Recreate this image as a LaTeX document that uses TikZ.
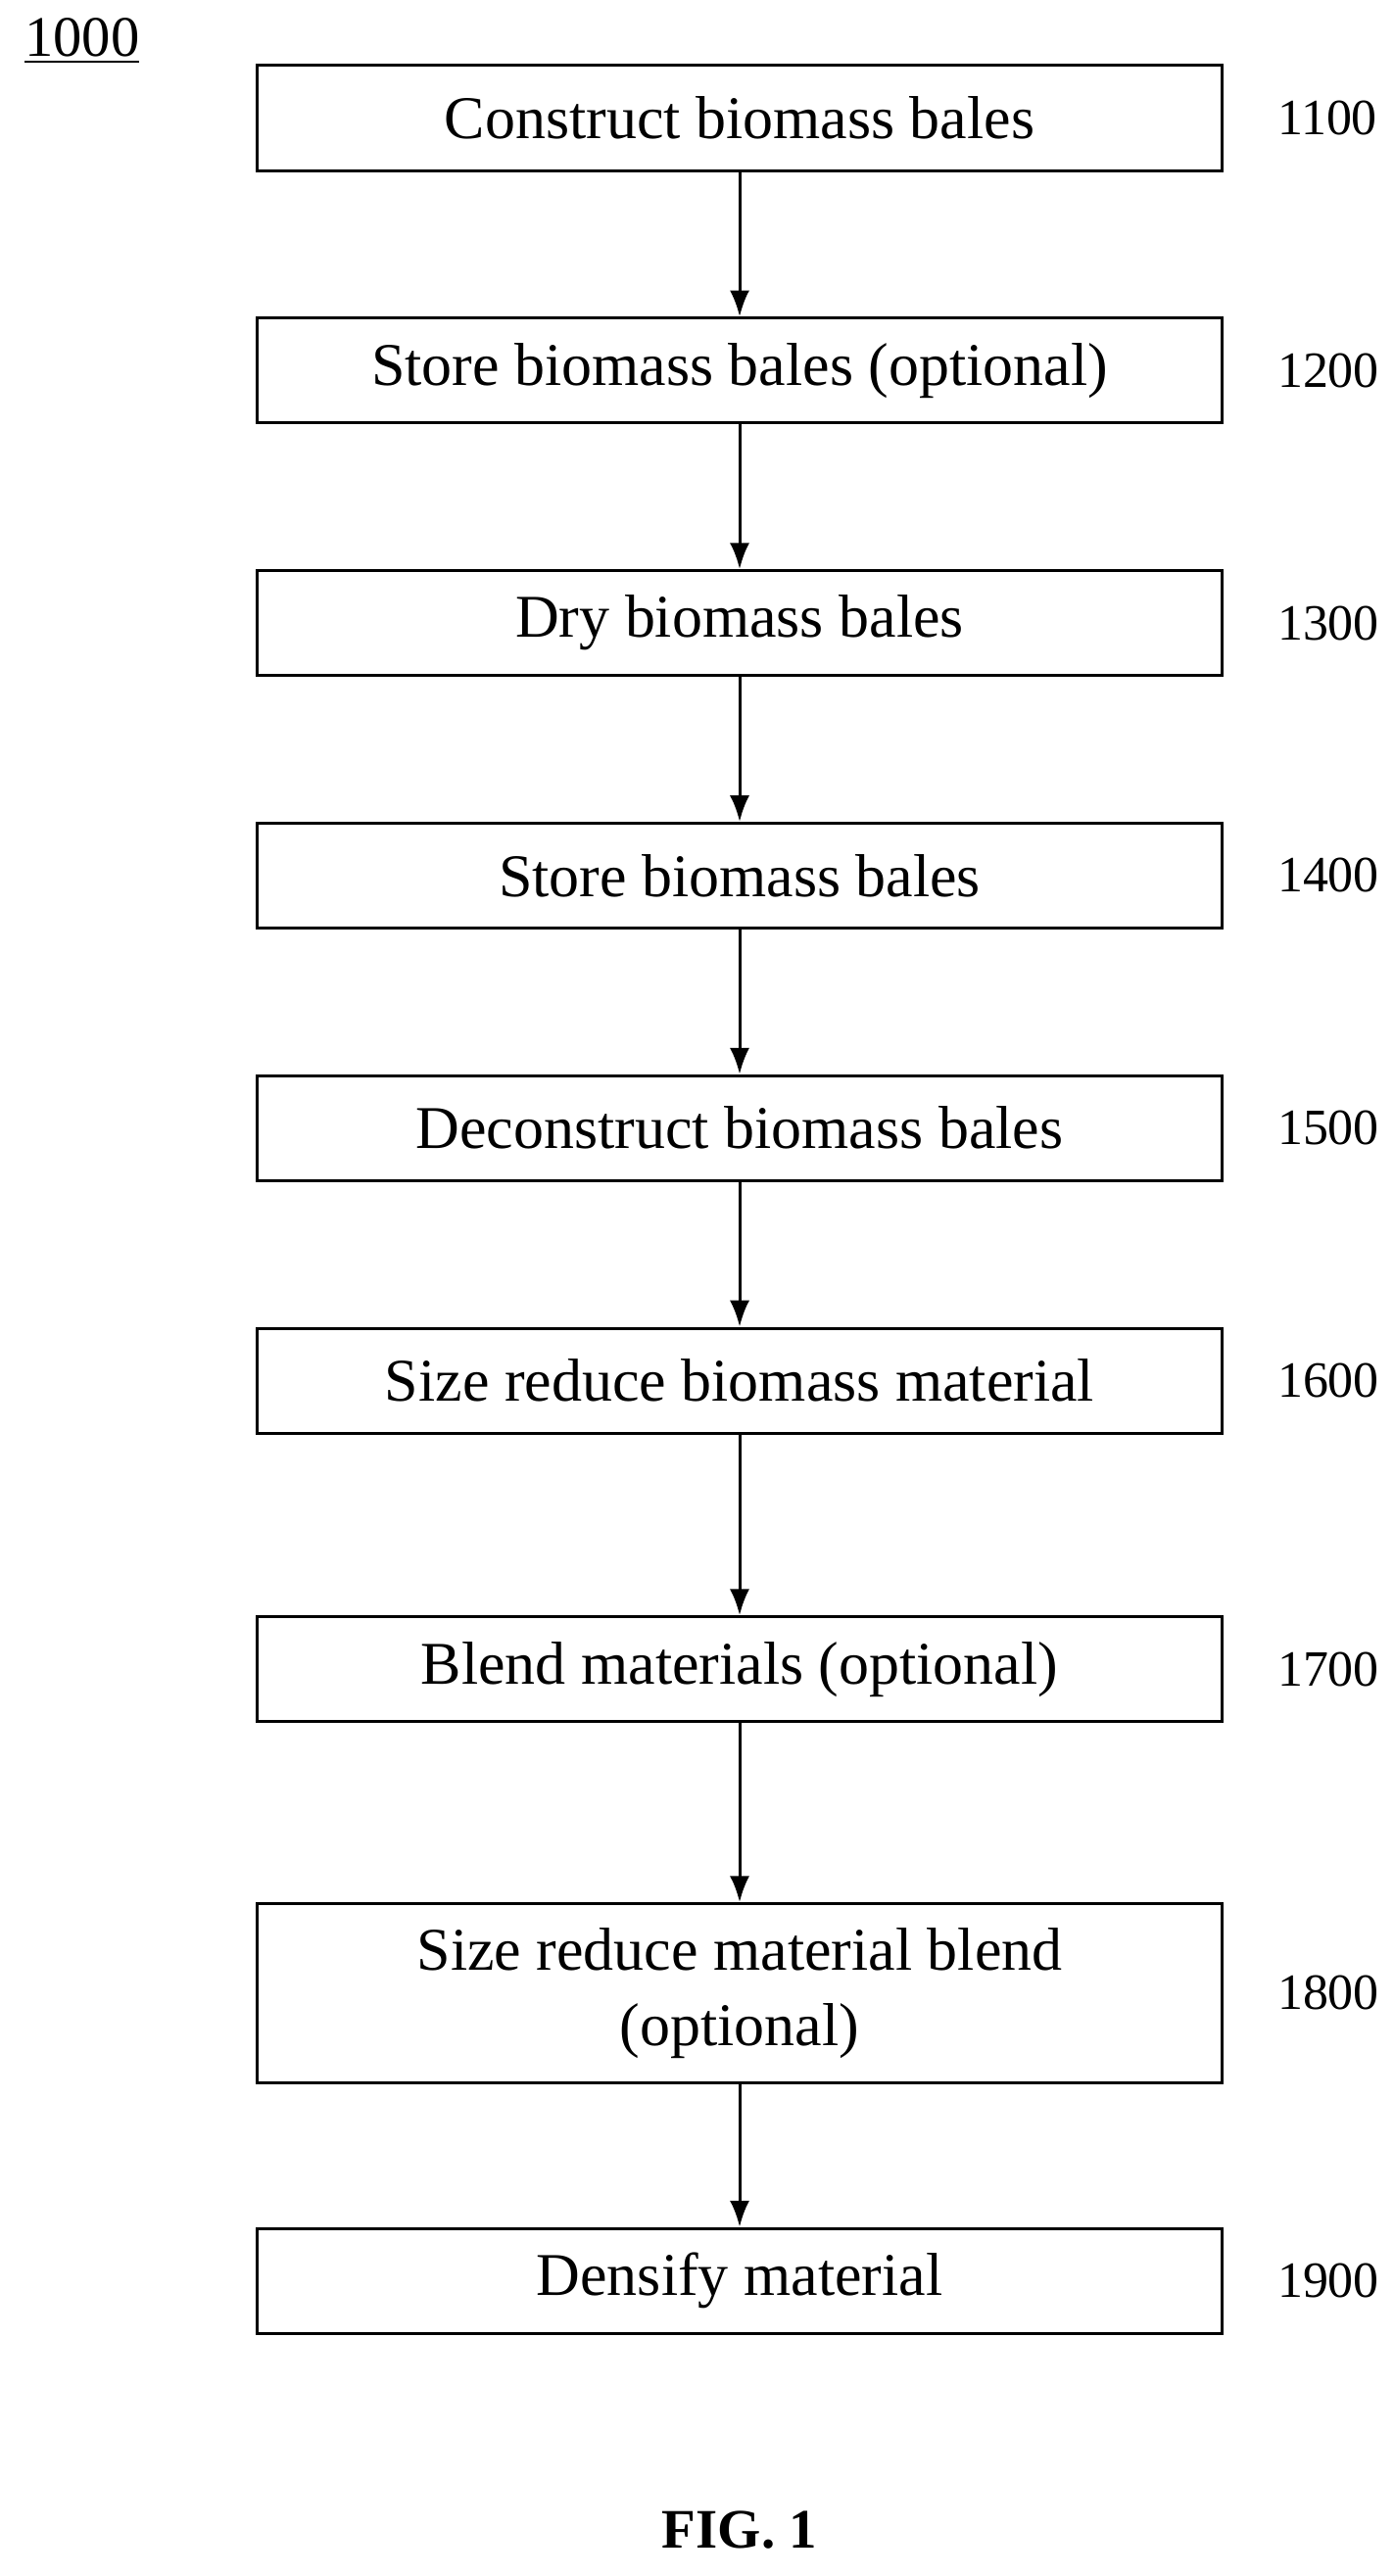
\documentclass[tikz,border=0pt]{standalone}
\usepackage{fontspec}
\setmainfont{Liberation Serif}
\usetikzlibrary{positioning,arrows.meta}
\begin{document}
\begin{tikzpicture}
  [x=0.5pt, y=-0.5pt,
   stage/.style={draw, line width=0.9pt, minimum width=294pt, minimum height=32pt,
                inner sep=2pt, align=center, font=\fontsize{18.5}{23}\selectfont},
   num/.style={font=\fontsize{15.5}{18}\selectfont},
   flow/.style={-{Latex[length=8pt,width=6pt]}, line width=0.9pt}]
  \useasboundingbox (0,0) rectangle (850,1571);
  \node [font=\fontsize{17.5}{20}\selectfont] (fig) at (50,25) {\underline{1000}};
  \node [stage] (s1) at (451,72) {Construct biomass bales};
  \node [stage] (s2) at (451,226) {Store biomass bales (optional)};
  \node [stage] (s3) at (451,380) {Dry biomass bales};
  \node [stage] (s4) at (451,534) {Store biomass bales};
  \node [stage] (s5) at (451,688) {Deconstruct biomass bales};
  \node [stage] (s6) at (451,842) {Size reduce biomass material};
  \node [stage] (s7) at (451,1018) {Blend materials (optional)};
  \node [stage, minimum height=54.5pt] (s8) at (451,1215.5) {Size reduce material blend\\(optional)};
  \node [stage] (s9) at (451,1391) {Densify material};
  \foreach \i/\n in {1/1100, 2/1200, 3/1300, 4/1400, 5/1500, 6/1600, 7/1700, 8/1800, 9/1900}
    \node [num, right=13pt of s\i] (n\i) {\n};
  \foreach \a/\b in {s1/s2, s2/s3, s3/s4, s4/s5, s5/s6, s6/s7, s7/s8, s8/s9}
    \draw [flow] (\a) -- (\b);
  \node [font=\bfseries\fontsize{17}{20}\selectfont] (cap) at (451,1543) {FIG. 1};
\end{tikzpicture}
\end{document}
